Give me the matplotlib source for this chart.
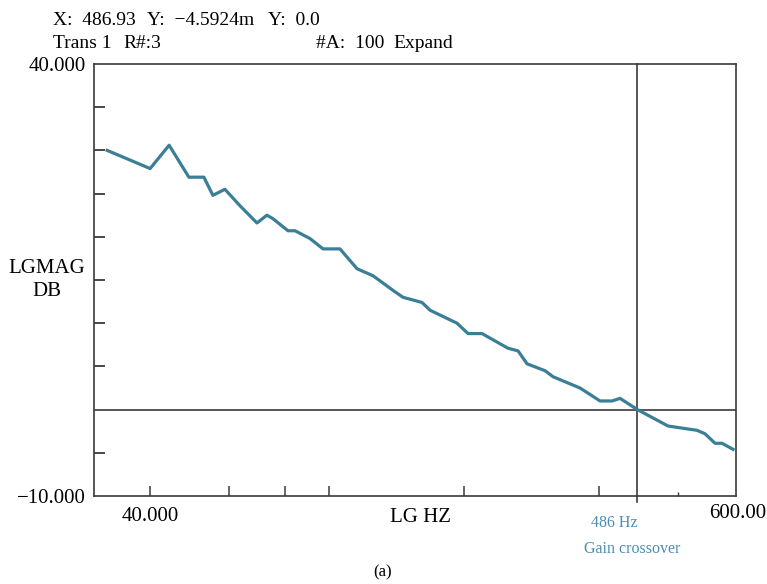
import matplotlib
matplotlib.use("Agg")
import matplotlib.pyplot as plt
from matplotlib.ticker import FixedLocator, NullFormatter

plt.rcParams['font.family'] = ['Liberation Serif', 'DejaVu Serif']

# ---- data ----
freq_hz = [32.1, 40.0, 44.1, 48.8, 52.7, 55.2, 58.7, 63.4, 69.2, 72.8, 75.1,
           81.1, 84.1, 90.8, 97.1, 105.9, 115.6, 125.4, 139.0, 146.3, 161.3,
           168.1, 193.0, 204.2, 219.4, 250.7, 263.9, 276.4, 303.1, 315.9,
           362.7, 401.8, 427.4, 445.3, 486.93, 569.5, 661.0, 688.6, 724.8,
           751.3, 795.0]
mag_db = [30.0, 27.9, 30.6, 26.9, 26.9, 24.8, 25.5, 23.6, 21.6, 22.5, 22.1,
          20.7, 20.7, 19.8, 18.6, 18.6, 16.3, 15.5, 13.8, 13.0, 12.4,
          11.5, 10.0, 8.8, 8.8, 7.1, 6.8, 5.3, 4.5, 3.8,
          2.5, 1.0, 1.0, 1.3, -0.005, -1.9, -2.4, -2.8, -3.9,
          -3.9, -4.6]
cursor_hz = 486.93
x_limits = (30.0, 807.0)
y_limits = (-10.0, 40.0)
x_ticks = [40, 60, 80, 100, 200, 400]
x_tick_labels = ["40.000", "", "", "", "", ""]
x_minor_ticks = [600]
y_ticks = [-10, 40]
y_tick_labels = ["\u221210.000", "40.000"]
y_minor_ticks = [-5, 5, 10, 15, 20, 25, 30, 35]

W, H = 767, 584
fig = plt.figure(figsize=(W / 100, H / 100), dpi=100)
ax = fig.add_axes([94 / W, 1 - 496 / H, (736 - 94) / W, (496 - 64) / H])

frame_col = "#3a3a3a"
curve_col = "#3a7f96"
teal_txt = "#4b8db5"

ax.set_xscale("log")
ax.set_xlim(*x_limits)
ax.set_ylim(*y_limits)

ax.plot(freq_hz, mag_db, color=curve_col, lw=2.3, solid_joinstyle="round", zorder=3)
ax.axhline(0, color=frame_col, lw=1.2, zorder=2)
ax.plot([cursor_hz, cursor_hz], [y_limits[0] - 0.75, y_limits[1]], color=frame_col,
        lw=1.2, clip_on=False, zorder=2)

for s in ax.spines.values():
    s.set_color(frame_col)
    s.set_linewidth(1.2)

ax.xaxis.set_major_locator(FixedLocator(x_ticks))
ax.set_xticklabels(x_tick_labels)
ax.xaxis.set_minor_locator(FixedLocator(x_minor_ticks))
ax.xaxis.set_minor_formatter(NullFormatter())
ax.tick_params(axis="x", which="major", direction="in", length=7, width=1.1,
               color=frame_col, labelsize=15, pad=8)
ax.tick_params(axis="x", which="minor", direction="in", length=3, width=1.0,
               color=frame_col)

ax.set_yticks(y_ticks)
ax.set_yticklabels(y_tick_labels)
ax.yaxis.set_minor_locator(FixedLocator(y_minor_ticks))
ax.yaxis.set_minor_formatter(NullFormatter())
ax.tick_params(axis="y", which="major", length=0, labelsize=15, pad=6)
ax.tick_params(axis="y", which="minor", direction="in", length=8, width=1.3,
               color=frame_col)

fs = 14
def ftext(px, py, s, **kw):
    fig.text(px / W, 1 - py / H, s, **kw)

ftext(53, 25, "X:  486.93", fontsize=fs, va="baseline")
ftext(147, 25, "Y:  \u22124.5924m", fontsize=fs, va="baseline")
ftext(268, 25, "Y:  0.0", fontsize=fs, va="baseline")
ftext(53, 48, "Trans 1", fontsize=fs, va="baseline")
ftext(123, 48, "R#:3", fontsize=fs, va="baseline")
ftext(316, 48, "#A:  100", fontsize=fs, va="baseline")
ftext(393, 48, "Expand", fontsize=fs, va="baseline")

ftext(47, 280, "LGMAG\nDB", fontsize=15, ha="center", va="center",
      multialignment="center", linespacing=1.25)
ftext(738, 513, "600.00", fontsize=15, ha="center", va="center")
ftext(420, 517, "LG HZ", fontsize=15, ha="center", va="center")
ftext(614, 523, "486 Hz", fontsize=11.5, ha="center", va="center", color=teal_txt)
ftext(632, 549, "Gain crossover", fontsize=11.5, ha="center", va="center", color=teal_txt)
ftext(383, 572, "(a)", fontsize=12, ha="center", va="center")

fig.savefig("out.png", dpi=100)
